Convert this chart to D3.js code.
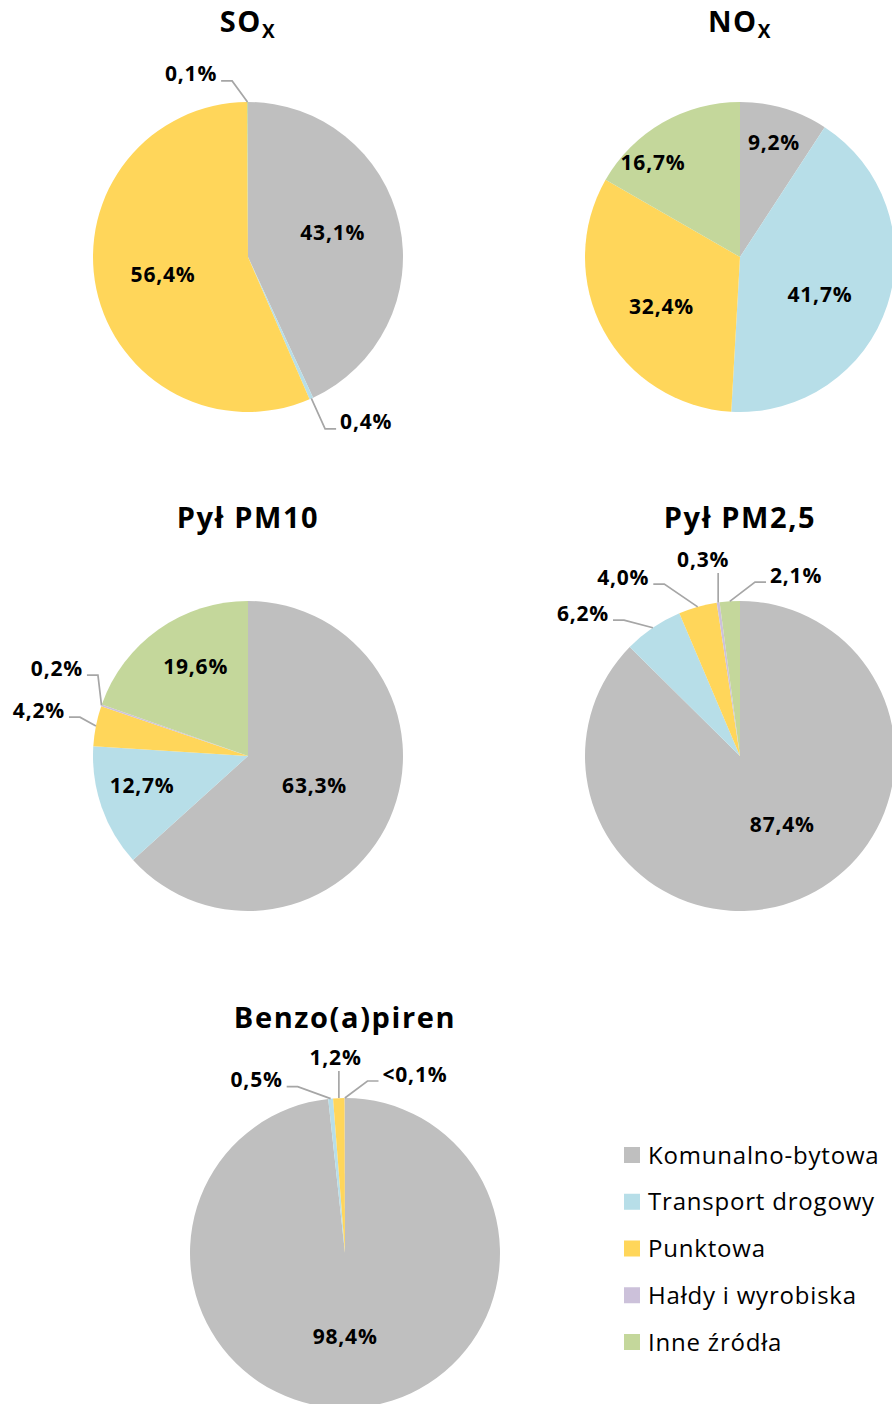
<!DOCTYPE html>
<html>
<head>
<meta charset="utf-8">
<script src="https://cdn.jsdelivr.net/npm/d3@7"></script>
<style>
  body { margin: 0; background: #fff; }
  text { font-family: "Open Sans", "Noto Sans", sans-serif; fill: #000; }
</style>
</head>
<body>
<script>
// categories and colours
var categories = ["Komunalno-bytowa", "Transport drogowy", "Punktowa", "Hałdy i wyrobiska", "Inne źródła"];
var colors = ["#bfbfbf", "#b7dee8", "#ffd65a", "#ccc1da", "#c4d79b"];

// values in %, same order as categories
var soxValues  = [43.1, 0.4, 56.4, 0, 0.1];
var noxValues  = [9.2, 41.7, 32.4, 0, 16.7];
var pm10Values = [63.3, 12.7, 4.2, 0.2, 19.6];
var pm25Values = [87.4, 6.2, 4.0, 0.3, 2.1];
var bapValues  = [98.4, 0.5, 1.2, 0.03, 0];

var soxLabels  = ["43,1%", "0,4%", "56,4%", "", "0,1%"];
var noxLabels  = ["9,2%", "41,7%", "32,4%", "", "16,7%"];
var pm10Labels = ["63,3%", "12,7%", "4,2%", "0,2%", "19,6%"];
var pm25Labels = ["87,4%", "6,2%", "4,0%", "0,3%", "2,1%"];
var bapLabels  = ["98,4%", "0,5%", "1,2%", "<0,1%", ""];

// label placement: [radius factor, angle shift in degrees, outside?]
var soxPlace  = [[0.57, -4], [1.309, -11.5, 1], [0.56, 0], null, [1.237, -17.1, 1]];
var noxPlace  = [[0.77, 0], [0.57, 7], [0.6, -4], null, [0.83, -12.5]];
var pm10Place = [[0.47, 0], [0.71, 3.5], [1.381, 1.2, 1], [1.357, 5.6, 1], [0.67, 5]];
var pm25Place = [[0.52, -9], [1.37, -13.5, 1], [1.378, -17.3, 1], [1.293, -2.5, 1], [1.222, 21, 1]];
var bapPlace  = [[0.54, 3], [1.255, -21.7, 1], [1.266, -0.5, 1], [1.24, 21.4, 1], null];

var charts = [
  {title: ["SO", "X"], values: soxValues, labels: soxLabels, place: soxPlace, cx: 248, cy: 257, ty: 32},
  {title: ["NO", "X"], values: noxValues, labels: noxLabels, place: noxPlace, cx: 740, cy: 257, ty: 32},
  {title: ["Pył PM10"], values: pm10Values, labels: pm10Labels, place: pm10Place, cx: 248, cy: 756, ty: 528},
  {title: ["Pył PM2,5"], values: pm25Values, labels: pm25Labels, place: pm25Place, cx: 740, cy: 756, ty: 528},
  {title: ["Benzo(a)piren"], values: bapValues, labels: bapLabels, place: bapPlace, cx: 345, cy: 1253, ty: 1028}
];

var width = 892, height = 1404, radius = 155;

var svg = d3.select("body")
  .append("svg")
  .attr("width", width)
  .attr("height", height);

var color = d3.scaleOrdinal().domain(d3.range(categories.length)).range(colors);

var pie = d3.pie()
  .sort(null)
  .value(function(d){ return d; });

var arc = d3.arc().innerRadius(0).outerRadius(radius);

function polar(angle, r) {
  return [Math.sin(angle) * r, -Math.cos(angle) * r];
}

charts.forEach(function(c){
  var g = svg.append("g")
    .attr("transform", "translate(" + c.cx + "," + c.cy + ")");

  var slices = pie(c.values);

  g.selectAll("path")
    .data(slices)
    .enter()
    .append("path")
    .attr("d", arc)
    .attr("fill", function(d, i){ return color(i); });

  // title
  var t = svg.append("text")
    .attr("x", c.cx)
    .attr("y", c.ty)
    .attr("text-anchor", "middle")
    .style("font-size", "29px")
    .style("font-weight", "bold")
    .style("letter-spacing", "1.6px")
    .text(c.title[0]);
  if (c.title[1]) {
    t.append("tspan")
      .attr("dy", 6)
      .style("font-size", "19px")
      .text(c.title[1]);
  }

  // data labels
  slices.forEach(function(d, i){
    var p = c.place[i];
    if (!p || !c.labels[i]) return;
    var mid = (d.startAngle + d.endAngle) / 2;
    var pos = polar(mid + p[1] * Math.PI / 180, p[0] * radius);

    var label = g.append("text")
      .attr("x", pos[0])
      .attr("y", pos[1] + 7.5)
      .attr("text-anchor", "middle")
      .style("font-size", "21px")
      .style("font-weight", "bold")
      .style("letter-spacing", "0.8px")
      .text(c.labels[i]);

    if (!p[2]) return;
    // leader line
    var w = label.node().getBBox().width;
    var a = polar(mid, radius);
    var pts;
    if (Math.abs(a[0] - pos[0]) < w / 2 - 2) {
      pts = [[a[0], pos[1] + 14], a];
    } else if (pos[0] < a[0]) {
      var x0 = pos[0] + w / 2 + 4;
      pts = [[x0, pos[1] + 7], [x0 + 11, pos[1] + 7], a];
    } else {
      var x1 = pos[0] - w / 2 - 4;
      pts = [[x1, pos[1] + 7], [x1 - 11, pos[1] + 7], a];
    }
    g.append("path")
      .attr("d", d3.line()(pts))
      .attr("fill", "none")
      .attr("stroke", "#a6a6a6")
      .attr("stroke-width", 1.7);
  });
});

// legend
var legendY = d3.scalePoint()
  .domain(categories)
  .range([1155, 1342]);

var legend = svg.selectAll(".legend")
  .data(categories)
  .enter()
  .append("g")
  .attr("class", "legend")
  .attr("transform", function(d){ return "translate(624," + legendY(d) + ")"; });

legend.append("rect")
  .attr("x", 0)
  .attr("y", -8)
  .attr("width", 16)
  .attr("height", 16)
  .attr("fill", function(d, i){ return color(i); });

legend.append("text")
  .attr("x", 24)
  .attr("y", 8.5)
  .style("font-size", "24px")
  .style("letter-spacing", "0.8px")
  .text(function(d){ return d; });
</script>
</body>
</html>
